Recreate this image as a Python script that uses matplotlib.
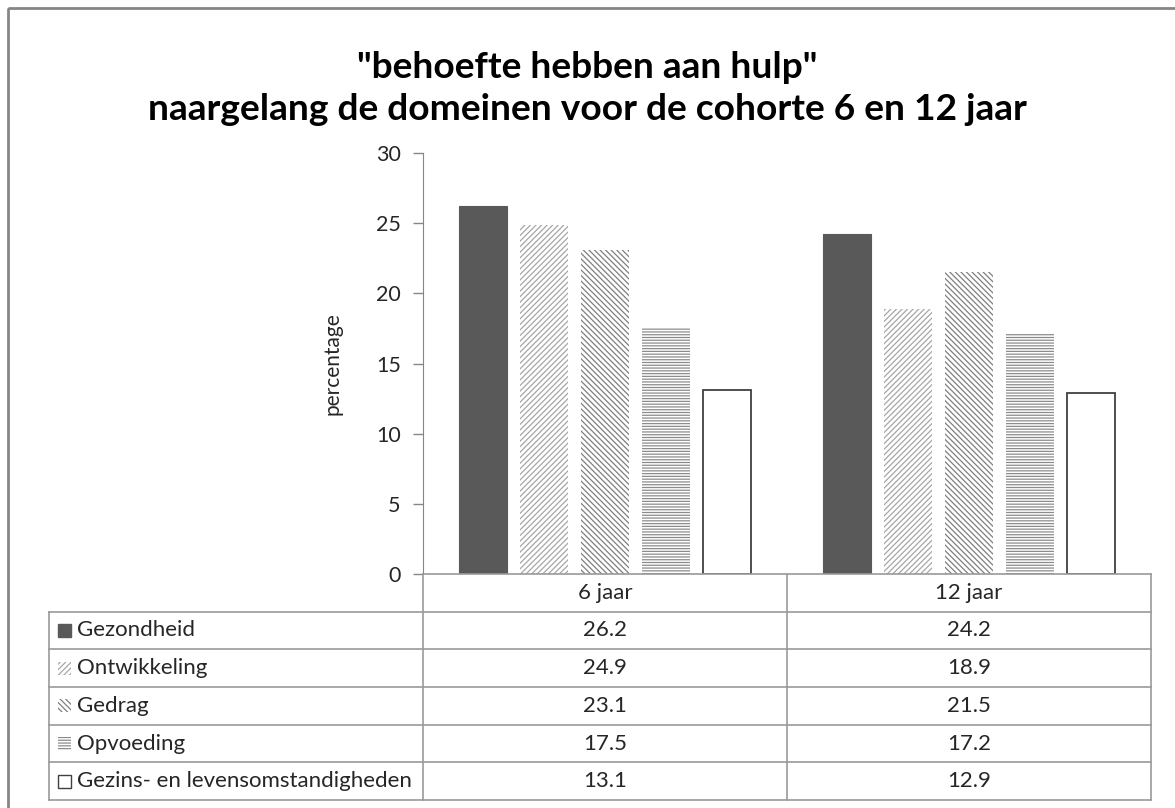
import matplotlib.pyplot as plt
from matplotlib.patches import Rectangle

plt.rcParams['font.family'] = ['Lato', 'DejaVu Sans']
plt.rcParams['hatch.linewidth'] = 0.9

groups = ['6 jaar', '12 jaar']
domains = ['Gezondheid', 'Ontwikkeling', 'Gedrag', 'Opvoeding',
           'Gezins- en levensomstandigheden']
values = [
    [26.2, 24.2],
    [24.9, 18.9],
    [23.1, 21.5],
    [17.5, 17.2],
    [13.1, 12.9],
]

# fill, hatch colour (edge), hatch, outline width
styles = [
    ('#595959', '#595959', None, 0.8),
    ('white', '#a6a6a6', '//////', 0.0),
    ('white', '#7f7f7f', '\\\\\\\\\\\\', 0.0),
    ('white', '#8c8c8c', '------', 0.0),
    ('white', '#404040', None, 1.3),
]

W, H = 1175, 808
fig = plt.figure(figsize=(W / 100, H / 100), dpi=100)

# pixel layout
ax_l, ax_r, ax_t, ax_b = 423, 1151, 153, 574
tab_l, col_mid = 49, 787
row_h = (800 - 574) / 6
fs = 16

ax = fig.add_axes([ax_l / W, 1 - ax_b / H, (ax_r - ax_l) / W, (ax_b - ax_t) / H])
bw = 0.132
pitch = 0.167
for i, (vals, st) in enumerate(zip(values, styles)):
    fc, ec, hatch, lw = st
    xs = [g + (i - 2) * pitch for g in range(len(groups))]
    if hatch:
        ax.bar(xs, vals, width=bw, color=fc, edgecolor=ec, hatch=hatch, linewidth=0)
    else:
        ax.bar(xs, vals, width=bw, color=fc, edgecolor=ec, linewidth=lw)

ax.set_xlim(-0.5, len(groups) - 0.5)
ax.set_ylim(0, 30)
ax.set_yticks(range(0, 31, 5))
ax.set_xticks([])
for s in ['top', 'right', 'bottom']:
    ax.spines[s].set_visible(False)
ax.spines['left'].set_color('#868686')
ax.tick_params(axis='y', colors='#868686', labelcolor='#262626', labelsize=15.5,
               length=7, width=1, pad=9)
ax.set_ylabel('percentage', fontsize=15, color='#262626', labelpad=24)

# overlay for title, table and frame
ov = fig.add_axes([0, 0, 1, 1], zorder=5)
ov.set_xlim(0, W)
ov.set_ylim(H, 0)
ov.axis('off')
ov.patch.set_alpha(0)

ov.add_patch(Rectangle((7.5, 7.5), 1250, 900, fill=False, ec='#868686', lw=2))
ov.text(587, 68, '"behoefte hebben aan hulp"', ha='center', va='center',
        fontsize=26.7, fontweight='bold', color='black')
ov.text(587, 110, 'naargelang de domeinen voor de cohorte 6 en 12 jaar',
        ha='center', va='center', fontsize=26.7, fontweight='bold', color='black')

lc = '#9a9a9a'
# header row
ov.plot([ax_l, ax_r], [ax_b, ax_b], color=lc, lw=1.2)
col_centers = [(ax_l + col_mid) / 2, (col_mid + ax_r) / 2]
for c, g in zip(col_centers, groups):
    ov.text(c, ax_b + row_h / 2, g, ha='center', va='center', fontsize=fs, color='#262626')
# horizontal lines
for r in range(1, 7):
    y = ax_b + r * row_h
    ov.plot([tab_l, ax_r], [y, y], color=lc, lw=1.2)
ov.plot([tab_l, tab_l], [ax_b + row_h, 800], color=lc, lw=1.2)
ov.plot([ax_l, ax_l], [ax_b, 800], color=lc, lw=1.2)
ov.plot([col_mid, col_mid], [ax_b, 800], color=lc, lw=1.2)
ov.plot([ax_r, ax_r], [ax_b, 800], color=lc, lw=1.2)

for i, (name, vals, st) in enumerate(zip(domains, values, styles)):
    yc = ax_b + (i + 1.5) * row_h
    fc, ec, hatch, lw = st
    key = Rectangle((58, yc - 6.5), 13, 13, facecolor=fc, edgecolor=ec,
                    hatch=hatch, lw=0 if hatch else 1.0)
    ov.add_patch(key)
    ov.text(77, yc, name, ha='left', va='center', fontsize=fs, color='#262626')
    for c, v in zip(col_centers, vals):
        ov.text(c, yc, f'{v:.1f}', ha='center', va='center', fontsize=fs, color='#262626')

fig.savefig('out.png', dpi=100)
